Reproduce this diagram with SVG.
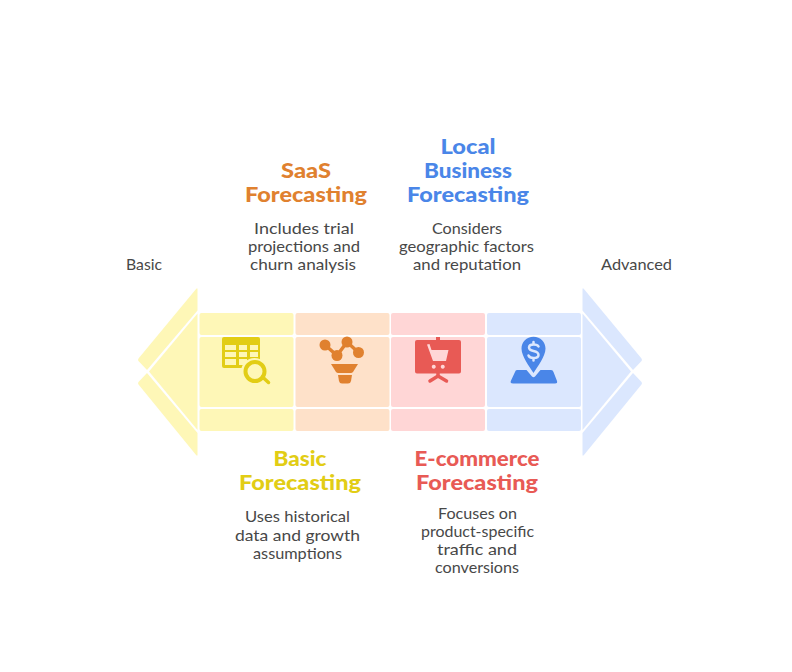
<svg xmlns="http://www.w3.org/2000/svg" width="792" height="672" viewBox="0 0 792 672">
<style>
.t{font-family:"Lato","Noto Sans",sans-serif;font-weight:900;font-size:20px;text-anchor:middle}
.d{font-family:"Lato","Noto Sans",sans-serif;font-size:15px;fill:#484848;text-anchor:middle}
.y{fill:#fef7b7}.o{fill:#fee1c9}.r{fill:#ffd6d6}.b{fill:#dbe7fe}
.cy{fill:#e2cd15}.co{fill:#e0812f}.cr{fill:#e85a55}.cb{fill:#4a86e8}
</style>
<rect width="792" height="672" fill="#fff"/>
<g id="connectors">
<g id="arrow-left" class="y">
<path d="M197.500 288.500V310.500L147 370L138.500 361Q137.500 360 138.500 358.500L196.500 288.500Z"/>
<path d="M197.500 313.500L149 371.500L197.500 430Z"/>
<path d="M197.500 455.500V433L147 373L138.500 382Q137.500 383 138.500 384.500L196.500 455.500Z"/>
</g>
<g id="arrow-right" class="b">
<path d="M582.500 288.500V310.500L633 370L641.500 361Q642.500 360 641.500 358.500L583.500 288.500Z"/>
<path d="M582.500 313.500L631 371.500L582.500 430Z"/>
<path d="M582.500 455.500V433L633 373L641.500 382Q642.500 383 641.500 384.500L583.500 455.500Z"/>
</g>
</g>
<g id="node-basic">
<rect class="y" x="199.500" y="313" width="94" height="22" rx="2"/>
<rect class="y" x="199.500" y="337" width="94" height="70" rx="2"/>
<rect class="y" x="199.500" y="409" width="94" height="22" rx="2"/>
<path class="cy" fill-rule="evenodd" d="M224 337H258Q260 337 260 339V368H224Q222 368 222 366V339Q222 337 224 337ZM225 345V350H236V345ZM239 345V350H247V345ZM250 345V350H258V345ZM225 352V357H236V352ZM239 352V357H247V352ZM250 352V357H258V352ZM225 359V365H236V359ZM239 359V365H247V359Z"/>
<circle class="y" cx="254.500" cy="371.500" r="13.500"/>
<circle cx="255" cy="371.500" r="9.500" fill="#fef7b7" stroke="#e2cd15" stroke-width="4"/>
<path d="M262.500 377L268.500 382.500" stroke="#e2cd15" stroke-width="3.500" stroke-linecap="round"/>
<text class="t" x="300" y="466" fill="#e2cd15" textLength="53" lengthAdjust="spacingAndGlyphs">Basic</text>
<text class="t" x="300" y="490" fill="#e2cd15" textLength="122" lengthAdjust="spacingAndGlyphs">Forecasting</text>
<text class="d" x="297.500" y="522" textLength="105" lengthAdjust="spacingAndGlyphs">Uses historical</text>
<text class="d" x="297.500" y="541" textLength="125" lengthAdjust="spacingAndGlyphs">data and growth</text>
<text class="d" x="297.500" y="559" textLength="89" lengthAdjust="spacingAndGlyphs">assumptions</text>
</g>
<g id="node-saas">
<rect class="o" x="295.500" y="313" width="94" height="22" rx="2"/>
<rect class="o" x="295.500" y="337" width="94" height="70" rx="2"/>
<rect class="o" x="295.500" y="409" width="94" height="22" rx="2"/>
<path d="M325 345L337 355.500L347 342L358.500 352.500" fill="none" stroke="#e0812f" stroke-width="3.500"/>
<circle class="co" cx="325" cy="345" r="5.500"/>
<circle class="co" cx="337" cy="355.500" r="5.500"/>
<circle class="co" cx="347" cy="342" r="5.500"/>
<circle class="co" cx="358.500" cy="352.500" r="5.500"/>
<path class="co" d="M331 364H358L353 372Q352 373 351 373H338Q337 373 336 372Z"/>
<path class="co" d="M338 375H352L351 381Q350.500 383.500 348 383.500H342Q339.500 383.500 339 381Z"/>
<text class="t" x="306" y="178" fill="#e0812f" textLength="50" lengthAdjust="spacingAndGlyphs">SaaS</text>
<text class="t" x="306" y="202" fill="#e0812f" textLength="122" lengthAdjust="spacingAndGlyphs">Forecasting</text>
<text class="d" x="304" y="234" textLength="100" lengthAdjust="spacingAndGlyphs">Includes trial</text>
<text class="d" x="304" y="252" textLength="112" lengthAdjust="spacingAndGlyphs">projections and</text>
<text class="d" x="303" y="270" textLength="106" lengthAdjust="spacingAndGlyphs">churn analysis</text>
</g>
<g id="node-ecommerce">
<rect class="r" x="391" y="313" width="94" height="22" rx="2"/>
<rect class="r" x="391" y="337" width="94" height="70" rx="2"/>
<rect class="r" x="391" y="409" width="94" height="22" rx="2"/>
<rect class="cr" x="436" y="337" width="4" height="4"/>
<path class="cr" fill-rule="evenodd" d="M417 340H459Q461 340 461 342V371.500Q461 373.500 459 373.500H417Q415 373.500 415 371.500V342Q415 340 417 340ZM427 344.500L429.500 344L431.500 350H448.500L446 361H433ZM433.700 364.700A2 2 0 1 0 433.800 364.700ZM442.700 364.700A2 2 0 1 0 442.800 364.700Z"/>
<path d="M430 381L438 376L446.500 381" fill="none" stroke="#e85a55" stroke-width="3.500" stroke-linecap="round"/>
<path d="M438 373V377" stroke="#e85a55" stroke-width="3.500"/>
<text class="t" x="477" y="466" fill="#e85a55" textLength="125" lengthAdjust="spacingAndGlyphs">E-commerce</text>
<text class="t" x="477" y="490" fill="#e85a55" textLength="122" lengthAdjust="spacingAndGlyphs">Forecasting</text>
<text class="d" x="477.500" y="519" textLength="79" lengthAdjust="spacingAndGlyphs">Focuses on</text>
<text class="d" x="477.500" y="537" textLength="113" lengthAdjust="spacingAndGlyphs">product-specific</text>
<text class="d" x="477" y="555" textLength="80" lengthAdjust="spacingAndGlyphs">traffic and</text>
<text class="d" x="477" y="573" textLength="84" lengthAdjust="spacingAndGlyphs">conversions</text>
</g>
<g id="node-local">
<rect class="b" x="487" y="313" width="94" height="22" rx="2"/>
<rect class="b" x="487" y="337" width="94" height="70" rx="2"/>
<rect class="b" x="487" y="409" width="94" height="22" rx="2"/>
<path class="cb" d="M533.500 336.700C540.500 336.700 545.500 342 545.500 348.500C545.500 356 538 366 533.500 373C529 366 521.500 356 521.500 348.500C521.500 342 526.500 336.700 533.500 336.700Z"/>
<path d="M538.500 346.500Q537.500 344.500 533.500 344.500Q529 344.500 529 347.500Q529 350 533.500 351Q538.500 352 538.500 355Q538.500 358 533.500 358Q529.500 358 528.500 355.500M533.500 342V344.500M533.500 358V360.500" fill="none" stroke="#dbe7fe" stroke-width="2.500" stroke-linecap="round"/>
<path class="cb" d="M517 370H526.500L532 376.500Q533.500 378 535 376.500L540.500 370H551Q553 370 553.500 372L557 381Q557.800 383.500 555 383.500H513Q510 383.500 510.800 381L515 372Q515.500 370 517 370Z"/>
<text class="t" x="468" y="154" fill="#4a86e8" textLength="55" lengthAdjust="spacingAndGlyphs">Local</text>
<text class="t" x="468" y="178" fill="#4a86e8" textLength="88" lengthAdjust="spacingAndGlyphs">Business</text>
<text class="t" x="468" y="202" fill="#4a86e8" textLength="122" lengthAdjust="spacingAndGlyphs">Forecasting</text>
<text class="d" x="467" y="234" textLength="70" lengthAdjust="spacingAndGlyphs">Considers</text>
<text class="d" x="466.500" y="252" textLength="135" lengthAdjust="spacingAndGlyphs">geographic factors</text>
<text class="d" x="467" y="270" textLength="108" lengthAdjust="spacingAndGlyphs">and reputation</text>
</g>
<g id="label-basic"><text class="d" x="144" y="270" textLength="36" lengthAdjust="spacingAndGlyphs">Basic</text></g>
<g id="label-advanced"><text class="d" x="636.500" y="270" textLength="71" lengthAdjust="spacingAndGlyphs">Advanced</text></g>
</svg>
